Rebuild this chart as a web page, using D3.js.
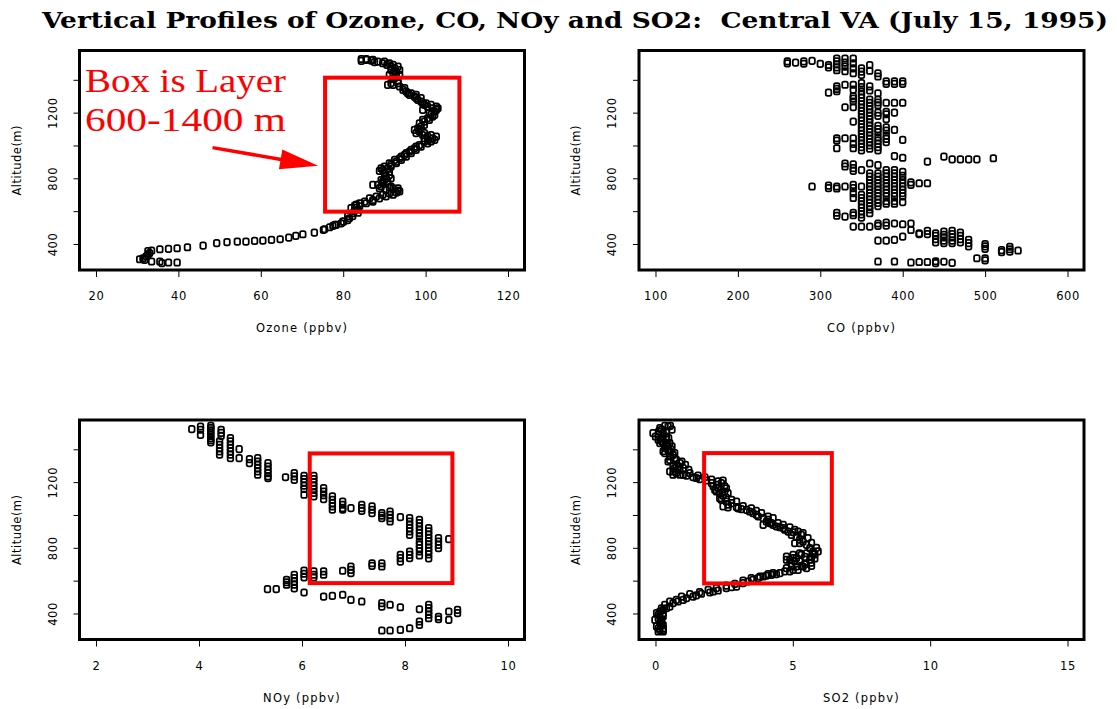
<!DOCTYPE html>
<html>
<head>
<meta charset="utf-8">
<title>Vertical Profiles of Ozone, CO, NOy and SO2</title>
<script src="https://d3js.org/d3.v7.min.js"></script>
<style>
    html, body { margin: 0; padding: 0; background: #fff; }
    svg text { font-family: "DejaVu Sans", Arial, sans-serif; fill: #000; }
    .title { font-family: "DejaVu Serif", serif; font-weight: bold; font-size: 22px; }
    .note { font-family: "Liberation Serif", "Times New Roman", serif; font-size: 33px; fill: #ff0000; }
</style>
</head>
<body>
<svg id="chart" width="1117" height="709"></svg>
<script>
// altitude axis, shared by all four panels
const altLim = [291, 1529];
const altTicks = [400, 600, 800, 1000, 1200, 1400];
const altLabels = [400, 800, 1200];

// [ozone ppbv, altitude m]
const ozone = [
    [84.4,1527],[85.6,1521],[86.8,1517],[88.4,1511],[89.6,1501],[90.6,1491],[91.6,1481],[92.5,1471],
    [92.9,1450],[92.1,1440],[91.2,1430],[92.9,1420],[93.3,1395],[90.8,1369],[92.1,1369],[93.7,1359],
    [94.5,1339],[95.3,1328],[96.1,1308],[97.3,1298],[98.1,1278],[98.9,1267],[99.7,1247],[100.5,1237],
    [101.7,1227],[102.2,1207],[101.3,1186],[100.5,1166],[99.3,1156],[98.5,1135],[98.1,1105],[97.3,1095],
    [98.5,1085],[99.3,1064],[100.5,1054],[101.7,1044],[101.3,1024],[99.7,1024],[98.5,1003],[97.3,983],
    [96.1,963],[94.9,943],[93.7,922],[92.5,912],[91.2,892],[90.0,871],[89.2,861],[90.0,831],
    [90.4,800],[89.6,780],[88.4,760],[87.2,760],[88.8,739],[90.4,729],[92.1,739],[92.9,713],
    [91.2,709],[89.6,699],[88.0,689],[86.4,678],[85.2,658],[84.0,648],[82.8,634],[81.9,618],
    [82.3,587],[81.5,557],[79.9,536],[78.3,516],[76.7,502],[75.5,490],
    [99.3,1217],[100.9,1197],[102.6,1217],[101.7,1176],[99.7,1145],[98.9,1115],[97.7,1075],[99.7,1044],
    [100.5,1034],[97.7,993],[96.5,973],[95.3,953],[94.1,932],[92.9,902],[91.6,882],[88.8,845],
    [91.2,820],[89.2,790],[91.6,750],[93.3,726],[87.2,668],[83.2,640],[83.6,610],[82.7,600],
    [81.1,570],[92.5,1410],[91.6,1460],[93.3,1380],[95.7,1318],[97.7,1288],[99.3,1257],[84.4,1515],
    [87.6,1508],[89.6,850],[90.4,815],[90.0,790],
    [85.6,1527],[87.2,1521],[90.0,1511],[91.2,1501],[92.1,1491],[93.3,1481],[93.7,1460],[93.7,1430],
    [92.1,1405],[91.6,1380],[94.9,1349],[96.5,1318],[97.7,1308],[98.9,1288],[100.1,1257],[101.3,1247],
    [102.6,1237],[103.0,1227],[102.2,1186],[100.9,1156],[99.7,1125],[98.5,1095],[99.7,1075],[101.3,1064],
    [102.6,1054],[102.2,1034],[100.5,1013],[98.9,993],[97.7,973],[96.5,953],[95.3,932],[94.1,912],
    [92.9,892],[91.6,871],[90.8,861],[91.2,841],[91.6,800],[90.8,780],[89.6,770],[89.2,750],
    [91.2,745],[93.3,739],[93.7,720],[92.1,700],[90.4,690],[88.8,678],[87.2,658],[85.6,648],
    [84.0,630],[83.2,620],[83.6,590],[82.3,570],[81.1,545],[79.5,525],[77.5,510],
    [80.1,536],[78.0,516],[75.2,486],[73.0,469],[70.2,459],[68.5,449],[66.8,439],[64.7,429],
    [62.6,425],[60.5,420],[58.5,419],[56.4,414],[54.3,414],[51.8,411],[49.3,405],[46.0,390],
    [42.2,380],[39.7,374],[37.6,370],[35.5,368],[33.5,360],[32.6,357],[33.0,345],[32.6,333],
    [32.2,325],[31.4,313],[30.6,307],[31.8,303],[33.5,293],[35.5,293],[37.6,287],[39.7,287],[36.0,283]
];

// [CO ppbv, altitude m]
const co = [
    [260,1512],[260,1500],[270,1505],[280,1512],[280,1498],[290,1515],[300,1497],[310,1490],[310,1476],
    [320,1530],[320,1512],[320,1494],[320,1476],[320,1458],[330,1530],[330,1505],[330,1480],[330,1452],
    [340,1530],[340,1500],[340,1470],[340,1440],[350,1470],[350,1450],[350,1430],[360,1490],[360,1455],
    [370,1440],[370,1420],[380,1390],[380,1375],[390,1390],[390,1375],[400,1390],[400,1375],
    [310,1322],[320,1360],[320,1345],[320,1330],[330,1370],[340,1370],[340,1340],[350,1380],[350,1355],
    [350,1330],[360,1360],[360,1335],[370,1318],[340,1300],[340,1285],[340,1268],[330,1233],[340,1233],
    [350,1310],[350,1290],[350,1270],[350,1250],[350,1230],[350,1210],[350,1190],[350,1170],[350,1150],
    [350,1130],[350,1110],[350,1090],[350,1070],[350,1050],[350,1030],[350,1010],[350,990],[350,970],
    [360,1280],[360,1260],[360,1240],[360,1220],[360,1200],[360,1180],[360,1160],[360,1140],[360,1120],
    [360,1100],[360,1080],[360,1060],[360,1040],[360,1020],[360,1000],[360,980],
    [370,1280],[370,1262],[370,1245],[370,1200],[370,1180],[370,1120],[370,1100],[370,1080],[370,1050],
    [370,1030],[370,1010],[370,990],[370,970],
    [380,1260],[380,1205],[380,1190],[380,1160],[380,1110],[380,1090],[380,1060],[380,1040],[380,1020],
    [390,1260],[390,1200],[390,1095],[400,1260],[400,1034],
    [340,1145],[340,1044],[340,1010],[340,983],[330,1044],[320,1044],[320,1030],[320,983],
    [390,935],[400,925],[430,902],[450,932],[460,915],[470,915],[480,915],[490,915],[510,922],
    [330,890],[330,872],[340,885],[340,862],[340,845],[350,850],[360,890],[370,880],
    [370,830],[370,810],[370,790],[370,770],[370,750],[370,730],[370,710],[370,690],[370,670],[370,650],[370,630],
    [380,850],[380,830],[380,810],[380,790],[380,770],[380,750],[380,730],[380,710],[380,690],
    [390,850],[390,830],[390,810],[390,790],[390,770],[390,750],[390,730],[390,710],[390,690],
    [400,840],[400,815],[400,790],[400,770],[400,750],[400,730],[400,710],[400,690],
    [410,775],[410,760],[420,770],[430,770],
    [290,750],[310,755],[310,740],[320,750],[320,738],[330,750],[340,760],[340,740],[350,750],
    [360,830],[360,810],[360,790],[360,770],[360,750],[360,730],[360,710],[360,690],[360,670],[360,650],
    [360,630],[360,610],
    [340,710],[340,680],[340,590],[340,575],
    [350,700],[350,680],[350,660],[350,640],[350,620],[350,600],[350,580],[350,560],
    [380,660],[380,645],[390,660],[390,645],[400,655],
    [320,590],[320,572],[330,567],[360,587],
    [340,506],[350,506],[360,506],[370,525],[370,510],[380,530],[380,512],[390,525],[400,520],[410,525],
    [420,465],[430,480],[430,460],[440,465],[450,475],[450,455],[460,480],[460,460],[460,440],[460,420],
    [440,450],[440,430],[440,410],[450,440],[450,420],[450,405],[460,405],[470,470],[470,450],[470,430],
    [470,410],[480,425],[480,405],[480,385],[500,400],[500,385],[500,370],[490,313],[500,313],[500,300],
    [520,363],[520,350],[530,383],[530,368],[530,353],[540,360],
    [370,420],[380,420],[390,425],[400,445],[410,485],[420,460],
    [370,293],[390,293],[410,287],[420,290],[430,290],[440,295],[440,283],[450,292],[460,285]
];

// [NOy ppbv, altitude m]
const noy = [
    [3.86,1523],[4.03,1539],[4.03,1519],[4.03,1488],
    [4.23,1543],[4.23,1530],[4.23,1515],[4.23,1500],[4.23,1486],[4.23,1468],[4.23,1455],[4.23,1442],
    [4.43,1519],[4.43,1500],[4.43,1482],[4.40,1448],[4.40,1428],[4.40,1408],[4.40,1387],[4.40,1367],
    [4.61,1468],[4.61,1448],[4.61,1428],[4.61,1408],[4.61,1387],[4.61,1367],[4.61,1346],
    [4.78,1401],[4.78,1346],[4.98,1340],[4.98,1316],
    [5.14,1346],[5.14,1326],[5.14,1306],[5.14,1285],[5.14,1265],[5.14,1245],
    [5.34,1316],[5.34,1295],[5.34,1275],[5.34,1255],[5.34,1235],[5.34,1224],
    [5.68,1230],[5.85,1255],[5.85,1235],[5.85,1214],
    [6.04,1239],[6.04,1219],[6.04,1199],[6.04,1178],[6.04,1158],[6.04,1123],
    [6.23,1239],[6.23,1219],[6.23,1199],[6.23,1178],[6.23,1158],[6.23,1135],[6.23,1113],
    [6.42,1164],[6.42,1143],[6.42,1120],[6.42,1097],
    [6.59,1113],[6.59,1093],[6.59,1072],[6.59,1052],[6.59,1032],
    [6.79,1082],[6.79,1062],[6.79,1042],[6.79,1032],[6.95,1042],
    [7.16,1062],[7.16,1042],[7.16,1025],[7.36,1052],[7.36,1032],[7.36,1011],
    [7.55,1011],[7.55,996],[7.55,981],[7.71,1021],[7.71,1001],[7.71,980],[7.71,960],[7.91,987],
    [8.09,981],[8.09,960],[8.09,940],[8.09,920],[8.09,900],[8.09,879],
    [8.28,970],[8.28,950],[8.28,930],[8.28,910],[8.28,890],[8.28,868],
    [8.46,920],[8.46,900],[8.46,880],[8.46,860],[8.46,840],[8.46,820],[8.46,800],[8.46,780],[8.46,760],[8.46,736],
    [8.65,859],[8.65,838],[8.65,818],[8.65,798],[8.85,853],
    [8.28,838],[8.28,818],[8.28,798],[8.28,778],[8.28,753],[8.09,777],[8.09,757],[8.09,737],
    [7.91,757],[7.91,737],[7.91,716],[7.55,706],[7.55,686],[7.36,706],[7.36,690],
    [6.95,686],[6.95,666],[6.95,646],[6.79,660],[6.42,656],[6.42,636],
    [6.23,656],[6.23,636],[6.23,620],[6.04,662],[6.04,642],[6.04,620],
    [5.85,636],[5.85,616],[5.85,595],[5.85,575],[5.85,553],[6.04,528],
    [5.70,605],[5.70,590],[5.70,575],[5.50,548],[5.33,548],
    [6.42,503],[6.59,507],[6.79,514],[6.95,483],[7.16,473],
    [7.55,463],[7.55,442],[7.71,453],[7.91,438],[8.28,426],
    [8.46,453],[8.46,433],[8.46,412],[8.46,392],[8.46,371],
    [8.65,365],[8.65,380],[8.85,412],[8.85,361],[9.02,422],[9.02,402],
    [8.28,351],[8.28,330],[8.09,310],[7.91,300],[7.71,296],[7.55,296]
];

// [SO2 ppbv, altitude m]
const so2 = [
    [0.34,1543],[0.46,1539],[0.16,1529],[-0.09,1499],[0.10,1488],[0.28,1499],[0.40,1478],[0.10,1458],
    [0.28,1438],[0.52,1438],[0.34,1407],[0.58,1397],[0.34,1377],[0.52,1356],[0.76,1336],[0.46,1326],
    [0.89,1316],[0.64,1296],[1.01,1285],[0.52,1265],[0.76,1255],[1.01,1245],[1.37,1230],[1.61,1218],
    [1.86,1210],[2.04,1194],[2.22,1184],[2.40,1194],[2.16,1153],[2.34,1133],[2.52,1143],[2.40,1092],
    [2.58,1082],[2.77,1072],[2.46,1052],[2.95,1048],[3.13,1036],[3.31,1031],[3.55,1011],[3.74,991],
    [3.92,981],[4.10,970],[3.92,940],[4.22,950],[4.40,930],[4.65,920],[4.83,899],[4.95,879],
    [5.13,869],[5.37,889],[5.07,828],[5.50,818],[5.74,778],[5.50,767],[5.25,767],[5.01,757],
    [4.77,747],[4.89,727],[5.25,717],[5.62,727],[5.13,686],[4.77,676],[5.50,676],[4.89,656],
    [4.53,646],[4.22,635],[3.92,625],[3.55,605],[3.19,585],[2.95,564],[2.58,554],[2.28,540],
    [1.98,528],[1.67,520],[1.37,503],[1.13,493],[0.82,473],[0.64,463],[0.52,442],[0.28,422],
    [0.04,402],[0.16,382],[-0.02,361],[0.22,351],[0.04,321],[0.16,300],[0.28,290],
    [0.22,1520],[0.40,1510],[0.22,1468],[0.46,1418],[0.28,1388],[0.64,1366],[0.76,1306],[0.89,1275],
    [0.64,1265],[1.13,1240],[1.49,1225],[2.28,1205],[2.10,1175],[2.28,1163],[2.46,1118],[2.34,1102],
    [2.65,1062],[3.01,1040],[3.43,1021],[3.68,1001],[4.04,960],[4.28,940],[4.53,925],[4.71,910],
    [5.01,895],[5.25,850],[5.37,838],[5.62,798],[5.80,760],[5.44,745],[5.13,737],[5.44,700],
    [5.31,690],[4.95,705],[5.01,666],[4.40,640],[4.04,630],[3.74,615],[3.37,595],[2.77,560],
    [2.10,534],[1.49,510],[1.01,483],[0.40,432],[0.16,412],[0.10,392],[0.10,371],[0.16,340],
    [0.10,310],[0.28,300],[0.22,1450],[0.52,1386],[0.70,1346],
    [0.54,1543],[0.60,1520],[0.12,1510],[0.00,1478],[0.40,1458],[0.48,1468],[0.16,1438],[0.40,1428],
    [0.60,1418],[0.46,1397],[0.70,1377],[0.52,1336],[0.96,1326],[0.84,1296],[1.09,1306],[0.70,1285],
    [1.21,1275],[0.64,1245],[0.89,1245],[1.25,1255],[1.55,1240],[1.80,1230],[2.04,1215],[2.46,1210],
    [2.52,1175],[2.58,1163],[2.22,1143],[2.64,1133],[2.58,1105],[2.77,1092],[2.95,1082],[2.64,1046],
    [3.19,1054],[3.49,1040],[3.67,1025],[3.86,1011],[4.10,991],[4.28,981],[4.16,950],[4.46,950],
    [4.65,940],[4.89,925],[5.07,910],[5.19,899],[5.31,879],[5.55,860],[5.25,828],[5.68,830],
    [5.86,800],[5.92,778],[5.74,767],[5.68,745],[5.31,757],[5.01,737],[4.77,727],[5.07,717],
    [5.80,735],[5.68,710],[5.37,686],[4.95,686],[5.68,690],[5.19,666],[4.71,656],[4.28,646],
    [4.10,640],[3.80,625],[3.49,615],[3.19,600],[2.89,580],[2.58,570],[2.22,554],[1.92,544],
    [1.61,530],[1.25,518],[0.95,503],[0.76,483],[0.52,473],[0.34,452],[0.22,432],[0.28,402],
    [0.28,382],[0.22,361],[0.28,330],[0.28,310],[0.10,290]
];

const ozoneTicks = [20, 40, 60, 80, 100, 120];
const coTicks = [100, 200, 300, 400, 500, 600];
const noyTicks = [2, 4, 6, 8, 10];
const so2Ticks = [0, 5, 10, 15];

// red "layer" boxes: [x from, x to], [alt from, alt to]
const ozoneBox = { x: [75.6, 108.2], alt: [597, 1413] };
const noyBox = { x: [6.15, 8.92], alt: [585, 1375] };
const so2Box = { x: [1.77, 6.42], alt: [583, 1377] };

// arrow in the ozone panel: tail and tip in data units
const arrowTail = [48.3, 987];
const arrowTip = [73.9, 876];

const W = 445, H = 219.5;
const svg = d3.select("#chart");

// S-PLUS style range: 4% extra on both sides
function pad(lim) {
    const s = lim[1] - lim[0];
    return [lim[0] - 0.04 * s, lim[1] + 0.04 * s];
}

svg.append("text")
    .attr("class", "title")
    .attr("xml:space", "preserve")
    .attr("x", 42).attr("y", 28)
    .attr("textLength", 1066).attr("lengthAdjust", "spacingAndGlyphs")
    .text("Vertical Profiles of Ozone, CO, NOy and SO2:  Central VA (July 15, 1995)");

const panels = [
    { data: ozone, xlim: [20, 120], ticks: ozoneTicks, label: "Ozone (ppbv)", left: 79.5, top: 50.5, box: ozoneBox, arrow: true },
    { data: co, xlim: [100, 600], ticks: coTicks, label: "CO (ppbv)", left: 639, top: 50.5 },
    { data: noy, xlim: [2, 10], ticks: noyTicks, label: "NOy (ppbv)", left: 79.5, top: 420, box: noyBox },
    { data: so2, xlim: [0, 15], ticks: so2Ticks, label: "SO2 (ppbv)", left: 639, top: 420, box: so2Box }
];

panels.forEach(drawPanel);

function drawPanel(p) {
    const g = svg.append("g").attr("transform", `translate(${p.left},${p.top})`);
    const x = d3.scaleLinear().domain(pad(p.xlim)).range([0, W]);
    const y = d3.scaleLinear().domain(pad(altLim)).range([H, 0]);

    // observations as small open markers
    g.append("g")
        .selectAll("rect")
        .data(p.data)
        .join("rect")
        .attr("x", d => x(d[0]) - 2.8)
        .attr("y", d => y(d[1]) - 3.2)
        .attr("width", 5.6)
        .attr("height", 6.4)
        .attr("rx", 1.8)
        .attr("fill", "none")
        .attr("stroke", "#000")
        .attr("stroke-width", 1.75);

    if (p.box) {
        g.append("rect")
            .attr("x", x(p.box.x[0]))
            .attr("y", y(p.box.alt[1]))
            .attr("width", x(p.box.x[1]) - x(p.box.x[0]))
            .attr("height", y(p.box.alt[0]) - y(p.box.alt[1]))
            .attr("fill", "none")
            .attr("stroke", "#ff0000")
            .attr("stroke-width", 4);
    }

    if (p.arrow) {
        const x0 = x(arrowTail[0]), y0 = y(arrowTail[1]);
        const x1 = x(arrowTip[0]), y1 = y(arrowTip[1]);
        const len = Math.hypot(x1 - x0, y1 - y0);
        const ux = (x1 - x0) / len, uy = (y1 - y0) / len;
        const hl = 38, hw = 10;
        const bx = x1 - ux * hl, by = y1 - uy * hl;
        g.append("line")
            .attr("x1", x0).attr("y1", y0).attr("x2", bx + ux * 2).attr("y2", by + uy * 2)
            .attr("stroke", "#ff0000").attr("stroke-width", 3.5);
        g.append("path")
            .attr("d", `M${x1},${y1}L${bx - uy * hw},${by + ux * hw}L${bx + uy * hw},${by - ux * hw}Z`)
            .attr("fill", "#ff0000");

        g.append("text").attr("class", "note")
            .attr("x", 5.5).attr("y", 41.5)
            .attr("textLength", 201).attr("lengthAdjust", "spacingAndGlyphs")
            .text("Box is Layer");
        g.append("text").attr("class", "note")
            .attr("x", 5.5).attr("y", 80)
            .attr("textLength", 201).attr("lengthAdjust", "spacingAndGlyphs")
            .text("600-1400 m");
    }

    // frame
    g.append("rect")
        .attr("width", W).attr("height", H)
        .attr("fill", "none").attr("stroke", "#000").attr("stroke-width", 3);

    const xAxis = g.append("g")
        .attr("transform", `translate(0,${H})`)
        .call(d3.axisBottom(x).tickValues(p.ticks).tickSize(7).tickPadding(15).tickFormat(d3.format("d")));
    xAxis.select(".domain").remove();
    xAxis.selectAll("text")
        .attr("font-size", 11.5).attr("font-family", null).attr("letter-spacing", 0.6);

    const yAxis = g.append("g")
        .call(d3.axisLeft(y).tickValues(altTicks).tickSize(6)
            .tickFormat(d => altLabels.includes(d) ? d : ""));
    yAxis.select(".domain").remove();
    yAxis.selectAll("text")
        .attr("x", null).attr("dy", null)
        .attr("text-anchor", "middle")
        .attr("transform", "translate(-23,0) rotate(-90)")
        .attr("font-size", 11.5).attr("font-family", null).attr("letter-spacing", 0.6);

    g.append("text")
        .attr("x", W / 2).attr("y", H + 62)
        .attr("text-anchor", "middle")
        .attr("font-size", 11.5).attr("letter-spacing", 1.2)
        .text(p.label);

    g.append("text")
        .attr("transform", `translate(-59,${H / 2}) rotate(-90)`)
        .attr("text-anchor", "middle")
        .attr("font-size", 11.5).attr("letter-spacing", 0.5)
        .text("Altitude(m)");
}
</script>
</body>
</html>
